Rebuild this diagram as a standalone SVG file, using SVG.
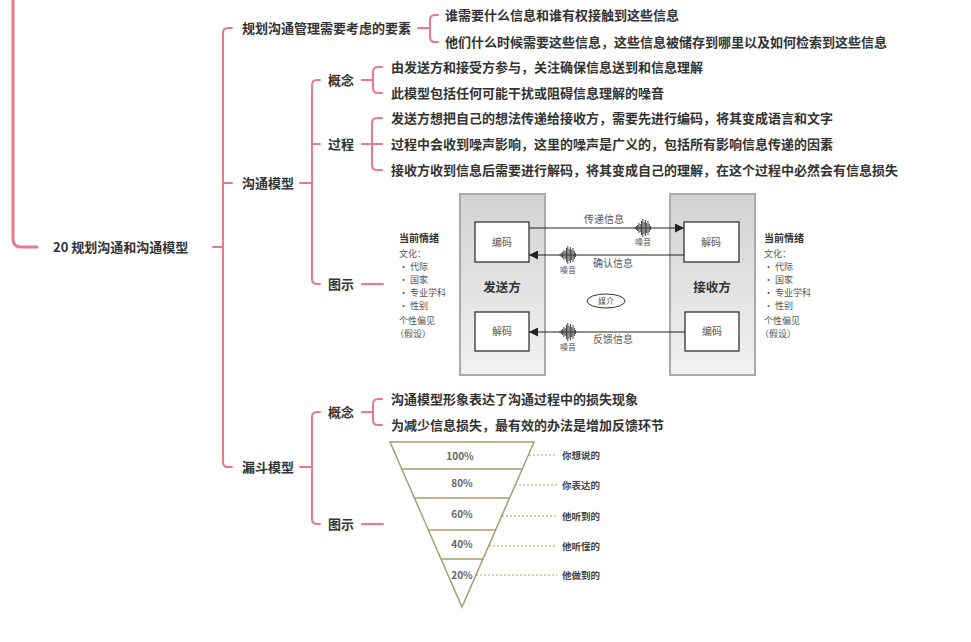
<svg xmlns="http://www.w3.org/2000/svg" width="971" height="642" viewBox="0 0 971 642">
<defs>
<style>
.t{font-family:"Noto Sans CJK SC","Noto Sans",sans-serif;font-weight:bold;font-size:13px;fill:#333}
.m{font-family:"Noto Sans CJK SC","Noto Sans",sans-serif;font-size:10px;fill:#555}
.n{font-family:"Noto Sans CJK SC","Noto Sans",sans-serif;font-size:9px;fill:#555}
.mb{font-family:"Noto Sans CJK SC","Noto Sans",sans-serif;font-size:10px;font-weight:bold;fill:#333}
.big{font-family:"Noto Sans CJK SC","Noto Sans",sans-serif;font-size:12.5px;font-weight:bold;fill:#333}
.sm{font-family:"Noto Sans CJK SC","Noto Sans",sans-serif;font-size:8px;fill:#555}
.fp{font-family:"Noto Sans CJK SC","Noto Sans",sans-serif;font-size:10px;font-weight:bold;fill:#666}
.fl{font-family:"Noto Sans CJK SC","Noto Sans",sans-serif;font-size:9.5px;font-weight:bold;fill:#444}
.c{fill:none;stroke:#e8798b;stroke-width:2;stroke-linecap:round}
.panel{fill:url(#pg);stroke:#aaa;stroke-width:2}
.box{fill:#fff;stroke:#333;stroke-width:1.3}
.arr{stroke:#222;stroke-width:1.2;fill:none}
.fun{fill:none;stroke:#a89e72;stroke-width:1.5}
.dash{stroke:#a89e72;stroke-width:1;stroke-dasharray:2,2}
</style>
<linearGradient id="pg" x1="0" y1="0" x2="0" y2="1">
<stop offset="0" stop-color="#d2d2d2"/>
<stop offset="1" stop-color="#f1f1f1"/>
</linearGradient>
<marker id="ah" viewBox="0 0 10 10" refX="10" refY="5" markerWidth="9" markerHeight="9" markerUnits="userSpaceOnUse" orient="auto">
<path d="M0,0 L10,5 L0,10 z" fill="#222"/>
</marker>
<g id="noise">
<path d="M-8,-1V1M-6.7,-2V2M-5.4,-3V3M-4.1,-5V5M-2.8,-4V4M-1.5,-7V7M-0.2,-9V9M1.1,-6V6M2.4,-8V8M3.7,-5V5M5,-7V7M6.3,-4V4M7.6,-2V2" stroke="#444" stroke-width="1"/>
</g>
</defs>

<g id="connectors">
<path class="c" style="stroke-width:3" d="M13,0 V239 Q13,247 21,247 H37"/>
<path class="c" d="M213,247 H223"/>
<path class="c" d="M232,28 H228 Q223,28 223,33 V462 Q223,467 228,467 H232"/>
<path class="c" d="M223,183 H232"/>
<path class="c" d="M418,28 H430"/>
<path class="c" d="M438,15 H435 Q430,15 430,20 V37 Q430,42 435,42 H438"/>
<path class="c" d="M300,183 H312"/>
<path class="c" d="M320,80 H317 Q312,80 312,85 V279 Q312,284 317,284 H320"/>
<path class="c" d="M312,144 H320"/>
<path class="c" d="M362,80 H373"/>
<path class="c" d="M382,67 H378 Q373,67 373,72 V88 Q373,93 378,93 H382"/>
<path class="c" d="M362,144 H382"/>
<path class="c" d="M382,118 H377 Q372,118 372,123 V165 Q372,170 377,170 H382"/>
<path class="c" d="M362,284 H383"/>
<path class="c" d="M300,467 H312"/>
<path class="c" d="M320,412 H317 Q312,412 312,417 V519 Q312,524 317,524 H320"/>
<path class="c" d="M362,412 H373"/>
<path class="c" d="M382,399 H378 Q373,399 373,404 V420 Q373,425 378,425 H382"/>
<path class="c" d="M362,524 H383"/>
</g>

<g id="root"><text class="t" x="53" y="252">20 规划沟通和沟通模型</text></g>
<g id="n-plan"><text class="t" x="242" y="33">规划沟通管理需要考虑的要素</text></g>
<g id="n-plan-1"><text class="t" x="445" y="20">谁需要什么信息和谁有权接触到这些信息</text></g>
<g id="n-plan-2"><text class="t" x="445" y="47">他们什么时候需要这些信息，这些信息被储存到哪里以及如何检索到这些信息</text></g>
<g id="n-model"><text class="t" x="242" y="188">沟通模型</text></g>
<g id="n-model-concept"><text class="t" x="328" y="85">概念</text></g>
<g id="n-mc1"><text class="t" x="391" y="72">由发送方和接受方参与，关注确保信息送到和信息理解</text></g>
<g id="n-mc2"><text class="t" x="391" y="98">此模型包括任何可能干扰或阻碍信息理解的噪音</text></g>
<g id="n-model-process"><text class="t" x="328" y="149">过程</text></g>
<g id="n-mp1"><text class="t" x="391" y="123">发送方想把自己的想法传递给接收方，需要先进行编码，将其变成语言和文字</text></g>
<g id="n-mp2"><text class="t" x="391" y="149">过程中会收到噪声影响，这里的噪声是广义的，包括所有影响信息传递的因素</text></g>
<g id="n-mp3"><text class="t" x="391" y="175">接收方收到信息后需要进行解码，将其变成自己的理解，在这个过程中必然会有信息损失</text></g>
<g id="n-model-fig"><text class="t" x="328" y="289">图示</text></g>

<g id="fig-model">
<g id="left-notes">
<text class="mb" x="399" y="242">当前情绪</text>
<text class="n" x="399" y="257">文化：</text>
<text class="n" x="399" y="270">• 代际</text>
<text class="n" x="399" y="283">• 国家</text>
<text class="n" x="399" y="296">• 专业学科</text>
<text class="n" x="399" y="309">• 性别</text>
<text class="n" x="399" y="324">个性偏见</text>
<text class="n" x="395" y="337">（假设）</text>
</g>
<g id="right-notes">
<text class="mb" x="764" y="242">当前情绪</text>
<text class="n" x="764" y="257">文化：</text>
<text class="n" x="764" y="270">• 代际</text>
<text class="n" x="764" y="283">• 国家</text>
<text class="n" x="764" y="296">• 专业学科</text>
<text class="n" x="764" y="309">• 性别</text>
<text class="n" x="764" y="324">个性偏见</text>
<text class="n" x="760" y="337">（假设）</text>
</g>
<g id="sender">
<rect class="panel" x="460" y="194" width="85" height="181"/>
<text class="big" x="502" y="292" text-anchor="middle">发送方</text>
</g>
<g id="sender-encode"><rect class="box" x="475" y="222" width="54" height="40"/><text class="m" x="502" y="246" text-anchor="middle">编码</text></g>
<g id="sender-decode"><rect class="box" x="475" y="312" width="54" height="39"/><text class="m" x="502" y="335" text-anchor="middle">解码</text></g>
<g id="receiver">
<rect class="panel" x="670" y="194" width="85" height="181"/>
<text class="big" x="712" y="292" text-anchor="middle">接收方</text>
</g>
<g id="receiver-decode"><rect class="box" x="684" y="222" width="55" height="40"/><text class="m" x="711" y="246" text-anchor="middle">解码</text></g>
<g id="receiver-encode"><rect class="box" x="685" y="312" width="54" height="39"/><text class="m" x="712" y="335" text-anchor="middle">编码</text></g>
<g id="medium"><ellipse cx="606" cy="301" rx="19" ry="7" fill="#fff" stroke="#333" stroke-width="1"/><text class="sm" x="606" y="304" text-anchor="middle">媒介</text></g>
<g id="model-arrows">
<line class="arr" x1="529" y1="228" x2="684" y2="228" marker-end="url(#ah)"/>
<line class="arr" x1="684" y1="255" x2="529" y2="255" marker-end="url(#ah)"/>
<line class="arr" x1="685" y1="332" x2="529" y2="332" marker-end="url(#ah)"/>
<text class="m" x="604" y="223" text-anchor="middle">传递信息</text>
<text class="m" x="613" y="267" text-anchor="middle">确认信息</text>
<text class="m" x="613" y="343" text-anchor="middle">反馈信息</text>
<use href="#noise" x="643" y="228"/>
<text class="sm" x="643" y="245" text-anchor="middle">噪音</text>
<use href="#noise" x="568" y="255"/>
<text class="sm" x="568" y="273" text-anchor="middle">噪音</text>
<use href="#noise" x="568" y="332"/>
<text class="sm" x="568" y="350" text-anchor="middle">噪音</text>
</g>
</g>

<g id="n-funnel"><text class="t" x="242" y="472">漏斗模型</text></g>
<g id="n-funnel-concept"><text class="t" x="328" y="417">概念</text></g>
<g id="n-fc1"><text class="t" x="391" y="404">沟通模型形象表达了沟通过程中的损失现象</text></g>
<g id="n-fc2"><text class="t" x="391" y="430">为减少信息损失，最有效的办法是增加反馈环节</text></g>
<g id="n-funnel-fig"><text class="t" x="328" y="529">图示</text></g>

<g id="fig-funnel">
<path class="fun" d="M390,442 H534 L462,607 Z"/>
<path class="fun" d="M401.8,469 H522.2 M414.4,498 H509.6 M428.4,530 H495.6 M441,559 H483"/>
<text class="fp" x="460" y="460" text-anchor="middle">100%</text>
<text class="fp" x="462" y="487" text-anchor="middle">80%</text>
<text class="fp" x="462" y="518" text-anchor="middle">60%</text>
<text class="fp" x="462" y="548" text-anchor="middle">40%</text>
<text class="fp" x="462" y="579" text-anchor="middle">20%</text>
<path class="dash" d="M529,455 H557 M515,485 H557 M502,516 H557 M489,546 H557 M476,575 H557"/>
<text class="fl" x="562" y="459">你想说的</text>
<text class="fl" x="562" y="489">你表达的</text>
<text class="fl" x="562" y="520">他听到的</text>
<text class="fl" x="562" y="550">他听懂的</text>
<text class="fl" x="562" y="579">他做到的</text>
</g>
</svg>
